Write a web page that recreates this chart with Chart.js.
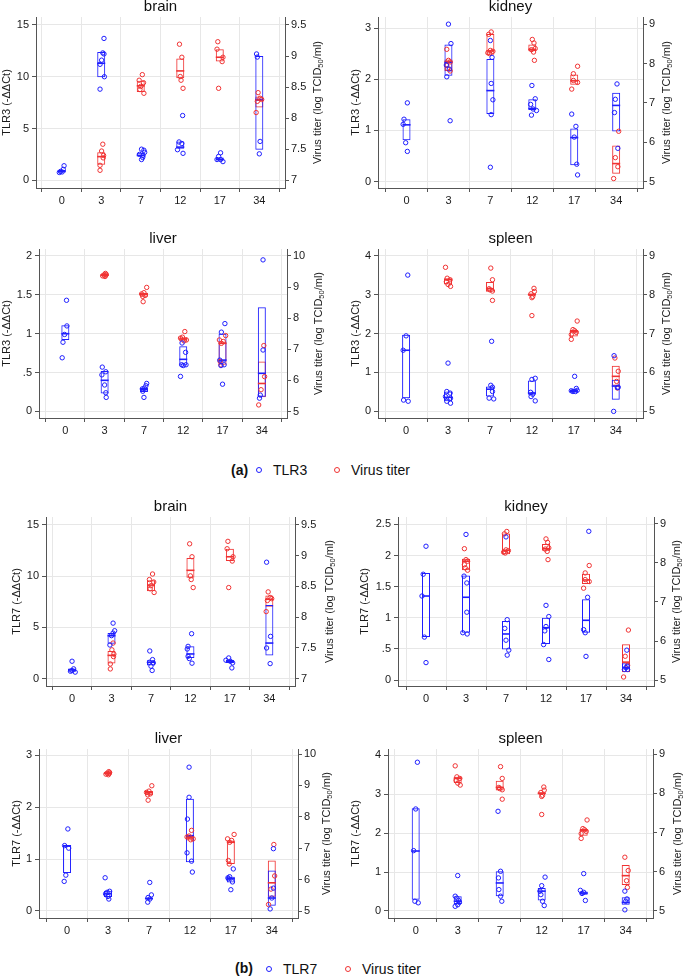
<!DOCTYPE html>
<html><head><meta charset="utf-8">
<script src="https://cdn.jsdelivr.net/npm/chart.js@4"></script>
<style>
body{margin:0;background:#fff;width:685px;height:977px;position:relative;overflow:hidden;font-family:"Liberation Sans",Arial,Helvetica,sans-serif;}
canvas{position:absolute;}
.leg{position:absolute;font-size:14px;color:#111;white-space:nowrap;line-height:16px;height:16px}
.dot{position:absolute;width:4px;height:4px;border-radius:50%;border:1px solid}
</style></head><body>

<canvas id="c1"></canvas><canvas id="c2"></canvas><canvas id="c3"></canvas><canvas id="c4"></canvas>
<canvas id="c5"></canvas><canvas id="c6"></canvas><canvas id="c7"></canvas><canvas id="c8"></canvas>

<span class="leg" style="left:231px;top:462px;font-weight:bold">(a)</span>
<span class="dot" style="left:256px;top:467px;border-color:#1e1eff"></span>
<span class="leg" style="left:273px;top:462px">TLR3</span>
<span class="dot" style="left:334px;top:467px;border-color:#f03232"></span>
<span class="leg" style="left:351px;top:462px">Virus titer</span>

<span class="leg" style="left:235px;top:960px;font-weight:bold">(b)</span>
<span class="dot" style="left:266px;top:966px;border-color:#1e1eff"></span>
<span class="leg" style="left:283px;top:961px">TLR7</span>
<span class="dot" style="left:345px;top:966px;border-color:#f03232"></span>
<span class="leg" style="left:362px;top:961px">Virus titer</span>

<script>
// ---------------- DATA ----------------
const DAYS = ['0','3','7','12','17','34'];

// Virus titer (shared by panels a and b), per day
const brainVirus    = [[], [7.58,7.47,7.40,7.36,7.24,7.16], [8.70,8.61,8.57,8.51,8.46,8.40], [9.19,8.98,8.67,8.61,8.48], [9.23,9.11,8.98,8.91,8.48], [8.41,8.32,8.30,8.27,8.09]];
const brainVirusJit = [[], [0.04,0.01,0.06,0.05,-0.03,-0.03], [0.04,-0.04,0.07,0,-0.02,0.08], [-0.02,0.04,0,0.02,0.07], [-0.05,-0.07,0.08,0.06,-0.03], [-0.03,0.02,0.06,-0.05,-0.08]];
const brainVirusBox = [null, [7.25,7.38,7.45], [8.42,8.52,8.60], [8.64,8.76,8.96], [8.91,8.98,9.11], [8.17,8.29,8.35]];

const kidneyVirus    = [[], [8.36,8.08,8.04,7.95,7.87,7.81], [8.80,8.74,8.33,8.31,8.27,8.25], [8.61,8.52,8.38,8.35,8.29,8.08], [7.93,7.74,7.57,7.52,7.35], [6.28,5.61,5.38,5.08]];
const kidneyVirusJit = [[], [-0.04,0,0.04,-0.04,-0.02,0.04], [0.02,-0.04,0,0.06,-0.06,-0.02], [0,0.04,0.07,-0.02,0.03,0.05], [0.08,-0.02,-0.02,0.08,-0.06], [0.06,-0.02,0.04,-0.06]];
const kidneyVirusBox = [null, [7.81,8.04,8.10], [8.22,8.32,8.75], [8.31,8.36,8.48], [7.46,7.56,7.72], [5.20,5.46,5.92]];

const liverVirus    = [[], [9.44,9.41,9.39,9.38,9.36,9.34], [8.99,8.82,8.78,8.73,8.70,8.53], [7.57,7.39,7.36,7.30,7.27], [7.44,7.30,7.25,7.19,6.61,6.50], [7.12,6.12,5.70,5.21]];
const liverVirusJit = [[], [0.02,0.04,-0.02,0.03,-0.05,0.01], [0.07,0,-0.06,0.03,-0.03,-0.02], [0.04,-0.02,-0.07,0.08,0.02], [0.08,-0.08,0.02,-0.03,-0.06,-0.04], [0.05,0.07,-0.02,-0.08]];
const liverVirusBox = [null, [9.36,9.39,9.42], [8.69,8.77,8.82], [7.25,7.33,7.39], [6.50,7.19,7.25], [5.46,5.90,6.61]];

const spleenVirus    = [[], [8.70,8.42,8.38,8.33,8.26,8.21], [8.68,8.38,8.15,8.12,8.09,7.85], [8.16,8.08,8.02,7.95,7.92,7.46], [7.32,7.10,7.07,7.03,6.97,6.85], [6.37,6.03,5.77,5.60]];
const spleenVirusJit = [[], [-0.06,-0.02,0.05,-0.04,0,0.06], [0.02,0.06,-0.02,0,0.06,0.06], [0.05,0.06,-0.02,0.02,0,0], [0.08,-0.02,0.02,0.06,-0.06,-0.06], [-0.02,0.06,0.02,0.04]];
const spleenVirusBox = [null, [8.26,8.38,8.42], [8.07,8.15,8.32], [7.97,8.00,8.03], [6.92,7.05,7.09], [5.66,5.90,6.17]];

// TLR3 (panel a)
const brainTLR3    = [[0.75,0.80,0.85,1.05,1.40], [13.7,12.3,12.2,11.6,11.2,10.0,8.8], [3.0,2.9,2.7,2.5,2.4,2.2,2.0], [6.25,3.7,3.55,2.95,2.6], [2.65,2.3,2.0,2.0,1.8], [12.2,11.9,3.75,2.55]];
const brainTLR3Jit = [[-0.06,0.01,-0.03,0.04,0.06], [0.07,0.04,0.07,0.01,-0.03,0.08,-0.03], [0.02,0.08,0.1,-0.03,0.06,0.05,0.02], [0.06,-0.03,0.04,-0.07,0.07], [0.02,-0.03,-0.07,0.02,0.08], [-0.07,-0.05,0.02,0]];
const brainTLR3Box = [[0.75,0.85,1.0], [9.95,11.3,12.4], [2.3,2.4,2.65], [3.05,3.2,3.75], [1.9,2.0,2.2], [2.95,7.8,12.0]];

const kidneyTLR3    = [[1.54,1.22,1.12,0.76,0.59], [3.08,2.70,2.28,2.20,2.05,1.19], [2.76,2.43,1.92,1.60,1.31,0.28], [1.88,1.62,1.51,1.42,1.39,1.30], [1.32,1.08,0.87,0.34,0.13], [1.91,1.61,1.35,0.65]];
const kidneyTLR3Jit = [[0.02,-0.06,-0.08,-0.02,0.02], [0,0.06,-0.05,0.02,-0.04,0.04], [0,0.04,0.02,0.06,0.02,0], [-0.01,0.07,-0.04,0.02,0.1,-0.02], [-0.06,0.04,0,0.06,0.08], [0.02,-0.02,-0.04,0.04]];
const kidneyTLR3Box = [[0.81,1.11,1.22], [2.07,2.33,2.68], [1.32,1.78,2.40], [1.40,1.43,1.61], [0.32,0.86,1.04], [0.98,1.49,1.74]];

const liverTLR3    = [[1.43,1.10,0.99,0.89,0.69], [0.57,0.51,0.47,0.34,0.24,0.18], [0.36,0.33,0.30,0.29,0.26,0.18], [0.88,0.76,0.60,0.60,0.59,0.45], [1.13,1.02,0.66,0.60,0.59,0.35], [1.95,0.79,0.21,0.17]];
const liverTLR3Jit = [[0.03,0.04,-0.02,-0.06,-0.08], [-0.06,0.03,-0.07,0,0.03,0.04], [0.07,0.05,0.01,-0.04,-0.03,0], [-0.03,0.06,-0.04,0.07,0,-0.07], [0.06,-0.03,-0.07,0.04,-0.04,0], [0.03,0.03,-0.04,-0.06]];
const liverTLR3Box = [[0.92,1.0,1.11], [0.23,0.40,0.52], [0.25,0.28,0.30], [0.59,0.67,0.84], [0.64,0.66,1.0], [0.19,0.49,1.34]];

const spleenTLR3    = [[3.50,1.94,1.57,0.29,0.26], [1.24,0.51,0.47,0.38,0.34,0.26,0.21], [1.80,0.67,0.62,0.51,0.34,0.32], [0.85,0.82,0.49,0.44,0.38,0.27], [0.90,0.59,0.54,0.53,0.51,0.51], [1.43,0.62,0.61,0.0]];
const spleenTLR3Jit = [[0.04,0,-0.07,-0.06,0.05], [0,-0.03,0.05,-0.06,0.06,-0.03,0.06], [0.04,0.02,0.06,0.06,-0.02,0.09], [0.08,0,-0.03,0.02,-0.02,0.08], [0.02,0.06,0.08,-0.06,0.04,-0.02], [-0.04,0.06,0.04,-0.05]];
const spleenTLR3Box = [[0.34,1.57,1.97], [0.26,0.36,0.51], [0.38,0.57,0.64], [0.43,0.47,0.79], [0.50,0.53,0.56], [0.30,0.65,0.81]];

// TLR7 (panel b)
const brainTLR7    = [[1.71,0.97,0.80,0.74,0.65], [5.42,4.68,4.45,4.20,3.29], [2.71,1.87,1.61,1.55,1.23,0.81], [4.39,3.16,2.90,2.19,1.97,1.52], [2.03,1.81,1.71,1.55,1.06], [11.35,4.13,3.0,1.48]];
const brainTLR7Jit = [[0,0.04,0,-0.04,0.08], [0.04,0.08,0.04,0,-0.04], [-0.03,0.04,-0.04,0.06,0,0.03], [0.03,-0.06,-0.08,-0.06,-0.03,0.04], [-0.03,-0.1,0.01,0.07,0.05], [-0.07,0.03,-0.07,0.02]];
const brainTLR7Box = [[0.68,0.87,1.0], [3.42,4.19,4.45], [1.29,1.61,1.81], [2.03,2.42,3.16], [1.55,1.68,1.84], [2.26,3.48,7.19]];

const kidneyTLR7    = [[2.15,1.70,1.35,0.69,0.28], [2.34,1.67,1.56,1.09,0.76,0.74], [2.30,0.97,0.83,0.64,0.48,0.40], [1.20,1.02,0.86,0.79,0.57,0.33], [2.39,1.33,0.81,0.76,0.38], [0.48,0.22,0.20,0.17,0.17]];
const kidneyTLR7Jit = [[0,-0.07,-0.1,-0.04,0], [0,-0.05,0.02,0.02,-0.08,0.03], [0,0.03,-0.03,0,0.07,0.03], [0,0.07,0,-0.03,-0.06,0.07], [0.07,0.04,-0.06,-0.02,0], [0.02,0.03,0,0.04,-0.04]];
const kidneyTLR7Box = [[0.69,1.35,1.72], [0.76,1.33,1.68], [0.49,0.74,0.95], [0.58,0.84,1.0], [0.76,0.96,1.30], [0.17,0.20,0.27]];

const liverTLR7    = [[1.58,1.26,1.21,0.69,0.57], [0.64,0.38,0.36,0.33,0.28,0.23], [0.55,0.31,0.26,0.23,0.17], [2.77,2.19,1.77,1.12,0.96,0.75], [0.81,0.66,0.64,0.62,0.56,0.41], [1.20,0.44,0.25,0.04]];
const liverTLR7Jit = [[0.02,-0.06,0.04,-0.03,-0.07], [-0.07,0.04,-0.02,-0.06,0,0.02], [0.02,0.06,-0.02,0.02,-0.03], [-0.02,-0.02,-0.06,-0.07,0.04,0.06], [0.06,-0.03,-0.07,-0.06,0.04,0], [0.04,0.04,0,-0.04]];
const liverTLR7Box = [[0.73,1.25,1.27], [0.27,0.33,0.39], [0.22,0.24,0.26], [0.94,1.45,2.16], [0.55,0.62,0.66], [0.10,0.25,0.78]];

const spleenTLR7    = [[3.82,2.62,1.55,0.25,0.21], [0.91,0.38,0.33,0.27,0.22,0.16,0.12], [2.56,1.02,0.85,0.55,0.38,0.25], [0.87,0.65,0.51,0.42,0.25,0.14], [0.96,0.53,0.48,0.45,0.27], [0.51,0.31,0.25,0.03]];
const spleenTLR7Jit = [[0.04,0,-0.05,-0.02,0.06], [0,-0.06,-0.02,0.02,0.04,0,-0.06], [-0.04,0.02,-0.03,-0.02,0.02,0.05], [0.08,0,-0.04,-0.02,0.02,0.06], [0,-0.08,0,-0.04,0.04], [-0.02,0.03,0,-0.02]];
const spleenTLR7Box = [[0.29,1.54,2.64], [0.18,0.25,0.38], [0.38,0.72,1.02], [0.27,0.51,0.59], [0.42,0.46,0.50], [0.16,0.22,0.35]];

// tick values
const brainLeftTicks  = [0,5,10,15];
const brainRightTicks = [7,7.5,8,8.5,9,9.5];
const kidneyLeftTicksA = [0,1,2,3];
const kidneyLeftTicksB = [0,0.5,1,1.5,2,2.5];
const kidneyRightTicks = [5,6,7,8,9];
const liverLeftTicksA = [0,0.5,1,1.5,2];
const liverLeftTicksB = [0,1,2,3];
const liverRightTicks = [5,6,7,8,9,10];
const spleenLeftTicks = [0,1,2,3,4];
const spleenRightTicks = [5,6,7,8,9];

// ---------------- PANELS ----------------
const PANELS = [
 {id:'c1', title:'brain',  yTitle:'TLR3 (-ΔΔCt)', tlr:brainTLR3,  tj:brainTLR3Jit,  tb:brainTLR3Box,  vir:brainVirus,  vj:brainVirusJit,  vb:brainVirusBox,  lt:brainLeftTicks,  rt:brainRightTicks,  l:[-0.75,15.77], r:[6.875,9.628], x:[-0.65,5.65]},
 {id:'c2', title:'kidney', yTitle:'TLR3 (-ΔΔCt)', tlr:kidneyTLR3, tj:kidneyTLR3Jit, tb:kidneyTLR3Box, vir:kidneyVirus, vj:kidneyVirusJit, vb:kidneyVirusBox, lt:kidneyLeftTicksA, rt:kidneyRightTicks, l:[-0.126,3.22], r:[4.84,9.18], x:[-0.68,5.64]},
 {id:'c3', title:'liver',  yTitle:'TLR3 (-ΔΔCt)', tlr:liverTLR3,  tj:liverTLR3Jit,  tb:liverTLR3Box,  vir:liverVirus,  vj:liverVirusJit,  vb:liverVirusBox,  lt:liverLeftTicksA, rt:liverRightTicks,  l:[-0.085,2.09], r:[4.79,10.225], x:[-0.67,5.64]},
 {id:'c4', title:'spleen', yTitle:'TLR3 (-ΔΔCt)', tlr:spleenTLR3, tj:spleenTLR3Jit, tb:spleenTLR3Box, vir:spleenVirus, vj:spleenVirusJit, vb:spleenVirusBox, lt:spleenLeftTicks, rt:spleenRightTicks, l:[-0.17,4.17], r:[4.83,9.17], x:[-0.67,5.65]},
 {id:'c5', title:'brain',  yTitle:'TLR7 (-ΔΔCt)', tlr:brainTLR7,  tj:brainTLR7Jit,  tb:brainTLR7Box,  vir:brainVirus,  vj:brainVirusJit,  vb:brainVirusBox,  lt:brainLeftTicks,  rt:brainRightTicks,  l:[-0.7,15.75], r:[6.883,9.625], x:[-0.66,5.65]},
 {id:'c6', title:'kidney', yTitle:'TLR7 (-ΔΔCt)', tlr:kidneyTLR7, tj:kidneyTLR7Jit, tb:kidneyTLR7Box, vir:kidneyVirus, vj:kidneyVirusJit, vb:kidneyVirusBox, lt:kidneyLeftTicksB, rt:kidneyRightTicks, l:[-0.096,2.62], r:[4.85,9.17], x:[-0.7,5.7]},
 {id:'c7', title:'liver',  yTitle:'TLR7 (-ΔΔCt)', tlr:liverTLR7,  tj:liverTLR7Jit,  tb:liverTLR7Box,  vir:liverVirus,  vj:liverVirusJit,  vb:liverVirusBox,  lt:liverLeftTicksB, rt:liverRightTicks,  l:[-0.135,3.12], r:[4.78,10.16], x:[-0.685,5.64]},
 {id:'c8', title:'spleen', yTitle:'TLR7 (-ΔΔCt)', tlr:spleenTLR7, tj:spleenTLR7Jit, tb:spleenTLR7Box, vir:spleenVirus, vj:spleenVirusJit, vb:spleenVirusBox, lt:spleenLeftTicks, rt:spleenRightTicks, l:[-0.18,4.16], r:[4.82,9.13], x:[-0.66,5.65]}
];

// plot-area placement on the page (pixels)
const LAYOUT = {
 c1:{pl:36,  pr:285, pt:17,  pb:188, ltx:6.3,  rtx:318},
 c2:{pl:378, pr:643, pt:17,  pb:188, ltx:355.7,rtx:667.3},
 c3:{pl:39,  pr:287, pt:249, pb:418, ltx:6.7,  rtx:319},
 c4:{pl:378, pr:643, pt:249, pb:418, ltx:355.3,rtx:667.3},
 c5:{pl:46,  pr:295, pt:517, pb:686, ltx:17,   rtx:330},
 c6:{pl:398, pr:654, pt:517, pb:686, ltx:364.7,rtx:676.7},
 c7:{pl:39,  pr:298, pt:749, pb:918, ltx:16.7, rtx:327.3},
 c8:{pl:388, pr:653, pt:749, pb:918, ltx:356,  rtx:678.3}
};

const BLUE = 'rgb(30,30,255)';
const RED = 'rgb(240,50,50)';
const AXIS = '#555';
const GRID = '#e7e7e7';
const FONT = '"Liberation Sans", Arial, Helvetica, sans-serif';
Chart.defaults.font.family = FONT;
Chart.defaults.color = '#1a1a1a';

const fmt = v => String(Math.round(v*100)/100).replace(/^0\./,'.');

const rightTitle = {
  id:'rightTitle',
  afterDraw(chart, args, opts){
    const ctx = chart.ctx, ca = chart.chartArea;
    const cy = (ca.top + ca.bottom)/2;
    const big = '11px ' + FONT, small = '7.5px ' + FONT;
    const segs = [['Virus titer (log TCID', big, 0], ['50', small, 3], ['/ml)', big, 0]];
    ctx.save();
    let total = 0;
    segs.forEach(s => { ctx.font = s[1]; total += ctx.measureText(s[0]).width; });
    ctx.translate(opts.x, cy);
    ctx.rotate(-Math.PI/2);
    ctx.fillStyle = '#1a1a1a';
    ctx.textBaseline = 'middle';
    ctx.textAlign = 'left';
    let x = -total/2;
    segs.forEach(s => { ctx.font = s[1]; ctx.fillText(s[0], x, s[2]); x += ctx.measureText(s[0]).width; });
    ctx.restore();
  }
};

function pts(vals, jit){
  const out = [];
  vals.forEach((arr, i) => arr.forEach((v, k) => out.push({x: i + jit[i][k], y: v})));
  return out;
}
function boxes(b){ const o=[]; b.forEach((q,i)=>{ if(q) o.push({x:i, y:[q[0], q[2]]}); }); return o; }
function meds(b){ const o=[]; b.forEach((q,i)=>{ if(q) o.push({x:i, y:q[1]}); }); return o; }

PANELS.forEach(p => {
  const L = LAYOUT[p.id];
  const cl = Math.round(L.ltx - 6.6);
  const ct = L.pt - 20;
  const BH = 20;
  const cw = Math.round(L.rtx + 9 - cl);
  const ch = (L.pb - L.pt) + 20 + BH;
  const LW = L.pl - cl;
  const RW = cw - (L.pr - cl);
  const cv = document.getElementById(p.id);
  cv.style.left = cl + 'px'; cv.style.top = ct + 'px';
  cv.width = cw; cv.height = ch;
  cv.style.width = cw + 'px'; cv.style.height = ch + 'px';

  const pointDs = (data, color, axis) => ({type:'scatter', data, yAxisID:axis, pointStyle:'circle', pointRadius:2.2, pointBorderWidth:1, pointBorderColor:color, pointBackgroundColor:'rgba(0,0,0,0)', showLine:false});
  const medDs = (data, color, axis) => ({type:'scatter', data, yAxisID:axis, pointStyle:'line', pointRadius:4, pointBorderWidth:1.6, pointBorderColor:color, pointBackgroundColor:color, showLine:false});
  const boxDs = (data, color, axis) => ({type:'bar', data, yAxisID:axis, backgroundColor:'rgba(0,0,0,0)', borderColor:color, borderWidth:1, borderSkipped:false, barThickness:8, grouped:false, inflateAmount:0});

  new Chart(cv, {
    type:'bar',
    data:{ datasets:[
      pointDs(pts(p.tlr, p.tj), BLUE, 'y'),
      pointDs(pts(p.vir, p.vj), RED, 'y1'),
      medDs(meds(p.tb), BLUE, 'y'),
      medDs(meds(p.vb), RED, 'y1'),
      boxDs(boxes(p.tb), BLUE, 'y'),
      boxDs(boxes(p.vb), RED, 'y1')
    ]},
    options:{
      responsive:false, animation:false, devicePixelRatio:1, events:[],
      layout:{padding:0, autoPadding:false},
      plugins:{
        legend:{display:false}, tooltip:{enabled:false},
        title:{display:true, text:p.title, fullSize:false, color:'#111', font:{size:15, weight:'normal', lineHeight:1}, padding:{top:2, bottom:3}},
        rightTitle:{x: L.rtx - cl}
      },
      scales:{
        x:{type:'linear', min:p.x[0], max:p.x[1], offset:false, bounds:'data',
           afterBuildTicks: s => { s.ticks = DAYS.map((d,i)=>({value:i})); },
           ticks:{callback: v => DAYS[Math.round(v)], font:{size:11}, color:'#1a1a1a', padding:2, maxRotation:0, autoSkip:false},
           grid:{color:GRID, tickColor:AXIS, tickLength:4, lineWidth:1},
           border:{color:AXIS, width:1},
           afterFit: s => { s.height = BH; }},
        y:{type:'linear', position:'left', min:p.l[0], max:p.l[1], bounds:'data',
           afterBuildTicks: s => { s.ticks = p.lt.map(v=>({value:v})); },
           ticks:{callback: v => fmt(v), font:{size:11}, color:'#1a1a1a', padding:3, autoSkip:false},
           grid:{color:GRID, tickColor:AXIS, tickLength:4, lineWidth:1},
           border:{color:AXIS, width:1},
           title:{display:true, text:p.yTitle, font:{size:11}, color:'#1a1a1a', padding:0},
           afterFit: s => { s.width = LW; }},
        y1:{type:'linear', position:'right', min:p.r[0], max:p.r[1], bounds:'data',
           afterBuildTicks: s => { s.ticks = p.rt.map(v=>({value:v})); },
           ticks:{callback: v => fmt(v), font:{size:11}, color:'#1a1a1a', padding:2, autoSkip:false},
           grid:{drawOnChartArea:false, tickColor:AXIS, tickLength:4},
           border:{color:AXIS, width:1},
           afterFit: s => { s.width = RW; }}
      }
    },
    plugins:[rightTitle]
  });
});
</script>
</body></html>
